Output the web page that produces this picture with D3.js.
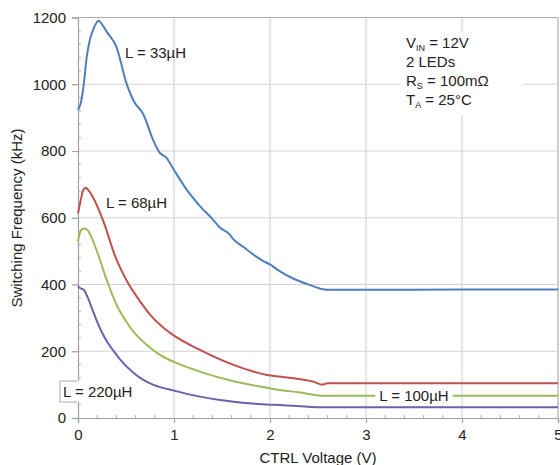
<!DOCTYPE html>
<html><head><meta charset="utf-8">
<script src="https://cdn.jsdelivr.net/npm/d3@7"></script>
<style>
html,body{margin:0;padding:0;background:#fff;}
svg{display:block;font-family:"Liberation Sans",Arial,sans-serif;}
</style></head>
<body>
<svg id="chart" width="560" height="465"></svg>
<script>
// ---- data ----
const xTicks = [0, 1, 2, 3, 4, 5];
const yTicks = [0, 200, 400, 600, 800, 1000, 1200];
const seriesNames = ["L = 33µH", "L = 68µH", "L = 100µH", "L = 220µH"];
const seriesColors = ["#4f7fbb", "#c0504d", "#9bbb59", "#6a62ab"];
const l33 = [[0,923],[0.03,945],[0.06,1000],[0.09,1080],[0.125,1135],[0.16,1165],[0.215,1190],[0.26,1175],[0.3,1157],[0.4,1112],[0.51,998],[0.58,950],[0.68,910],[0.78,835],[0.85,795],[0.92,780],[1.0,743],[1.13,685],[1.27,635],[1.41,593],[1.48,570],[1.58,550],[1.62,535],[1.72,513],[1.86,483],[1.93,470],[2.0,460],[2.1,440],[2.24,418],[2.42,398],[2.55,386],[2.62,384],[3,384],[4,385],[5,385]];
const l68 = [[0,613],[0.03,655],[0.05,680],[0.08,690],[0.12,678],[0.2,635],[0.26,593],[0.3,560],[0.35,515],[0.4,475],[0.46,438],[0.52,405],[0.65,348],[0.75,310],[0.9,268],[1.0,247],[1.27,204],[1.62,159],[1.97,129],[2.1,124],[2.3,117],[2.45,109],[2.54,100],[2.6,104],[3,104],[5,104]];
const l100 = [[0,528],[0.02,555],[0.04,565],[0.07,568],[0.1,563],[0.19,505],[0.3,413],[0.4,340],[0.5,290],[0.58,258],[0.72,218],[0.85,190],[1.0,168],[1.3,136],[1.62,110],[2.0,89],[2.1,84],[2.3,77],[2.54,67],[3,67],[5,67]];
const l220 = [[0,395],[0.03,388],[0.06,384],[0.1,362],[0.15,325],[0.2,288],[0.25,256],[0.3,230],[0.37,201],[0.44,175],[0.58,135],[0.68,114],[0.78,100],[1.0,82],[1.27,64],[1.48,54],[1.62,49],[2.0,40],[2.1,39],[2.54,32],[3,32],[5,32]];
const conditions = [["V","IN"," = 12V"],["2 LEDs","",""],["R","S"," = 100mΩ"],["T","A"," = 25°C"]];
const xTitle = "CTRL Voltage (V)";
const yTitle = "Switching Frequency (kHz)";

// ---- layout ----
const svg = d3.select("#chart");
const L = 78, R = 558, T = 17.5, B = 418;
const x = d3.scaleLinear().domain([0,5]).range([L,R]);
const y = d3.scaleLinear().domain([0,1200]).range([B,T]);
const txt = "#222";

// gridlines
svg.append("g").selectAll("line").data(xTicks.slice(1)).join("line")
  .attr("x1",d=>x(d)).attr("x2",d=>x(d)).attr("y1",T).attr("y2",B)
  .attr("stroke",d=>d===5?"#b0b0b0":"#d4d4d4").attr("stroke-width",1.2);
svg.append("g").selectAll("line").data(yTicks.slice(1)).join("line")
  .attr("x1",L).attr("x2",R).attr("y1",d=>y(d)).attr("y2",d=>y(d))
  .attr("stroke",d=>d===1200?"#b0b0b0":"#d4d4d4").attr("stroke-width",1.2);

// axes
const xAxis = d3.axisBottom(x).tickValues(xTicks).tickSize(5).tickPadding(6).tickFormat(d3.format("d"));
const yAxis = d3.axisLeft(y).tickValues(yTicks).tickSize(6).tickPadding(6).tickFormat(d3.format("d"));
const gx = svg.append("g").attr("transform",`translate(0,${B})`).call(xAxis);
const gy = svg.append("g").attr("transform",`translate(${L},0)`).call(yAxis);
[gx,gy].forEach(g=>{
  g.select(".domain").attr("stroke","#a0a0a0").attr("stroke-width",1.2);
  g.selectAll(".tick line").attr("stroke","#a0a0a0").attr("stroke-width",1.2);
  g.selectAll(".tick text").attr("fill",txt).attr("font-size",15).attr("font-family","Liberation Sans, Arial, sans-serif");
});
// minor ticks
const xMinor = d3.range(0,5,0.2).filter(v=>Math.abs(v-Math.round(v))>1e-6);
svg.append("g").selectAll("line").data(xMinor).join("line")
  .attr("x1",d=>x(d)).attr("x2",d=>x(d)).attr("y1",B-3).attr("y2",B)
  .attr("stroke","#b0b0b0");
const yMinor = d3.range(0,1200,40).filter(v=>v%200!==0);
svg.append("g").selectAll("line").data(yMinor).join("line")
  .attr("x1",L).attr("x2",L+3).attr("y1",d=>y(d)).attr("y2",d=>y(d))
  .attr("stroke","#b0b0b0");

// condition box background
svg.append("rect").attr("x",400).attr("y",32).attr("width",123).attr("height",83).attr("fill","#fff");

// series
const line = d3.line().x(d=>x(d[0])).y(d=>y(d[1])).curve(d3.curveMonotoneX);
[l33,l68,l100,l220].forEach((s,i)=>{
  svg.append("path").datum(s).attr("d",line).attr("fill","none")
    .attr("stroke",seriesColors[i]).attr("stroke-width",2).attr("stroke-linejoin","round");
});

// series labels
function label(t,cx,cy,anchor,bg){
  const g = svg.append("g");
  const te = g.append("text").attr("x",cx).attr("y",cy).attr("dy","0.35em")
    .attr("text-anchor",anchor).attr("font-size",15).attr("fill",txt).text(t);
  if(bg){
    const bb = te.node().getBBox();
    g.insert("rect","text").attr("x",bb.x-4).attr("y",bb.y).attr("width",bb.width+8).attr("height",bb.height).attr("fill","#fff");
  }
}
label(seriesNames[0],125,53,"start",false);
label(seriesNames[1],106,203,"start",false);
label(seriesNames[2],414,396,"middle",true);
// 220 label with box partly outside plot (covers the axis line)
svg.append("rect").attr("x",60).attr("y",381).attr("width",79).attr("height",21).attr("fill","#fff");
svg.append("path").attr("d","M77,381H60V402H77").attr("fill","none").attr("stroke","#a8a8a8").attr("stroke-width",1);
label(seriesNames[3],63,392,"start",false);

// conditions
conditions.forEach((c,i)=>{
  const t = svg.append("text").attr("x",406).attr("y",48+i*19).attr("font-size",15).attr("fill",txt);
  t.append("tspan").text(c[0]);
  if(c[1]){
    t.append("tspan").attr("font-size",9).attr("dy",3).text(c[1]);
    t.append("tspan").attr("dy",-3).text(c[2]);
  }
});

// titles
svg.append("text").attr("x",318).attr("y",463).attr("text-anchor","middle")
  .attr("font-size",15).attr("fill",txt).text(xTitle);
svg.append("text").attr("transform","translate(22,218) rotate(-90)").attr("text-anchor","middle")
  .attr("font-size",15).attr("fill",txt).text(yTitle);
</script>
</body></html>
